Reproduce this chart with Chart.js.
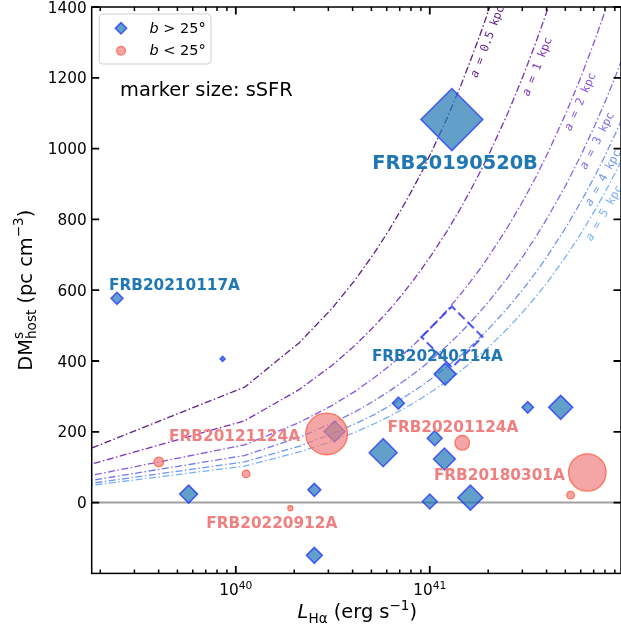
<!DOCTYPE html>
<html><head><meta charset="utf-8">
<script src="https://cdn.jsdelivr.net/npm/chart.js@4.4.1/dist/chart.umd.min.js"></script>
<style>html,body{margin:0;padding:0;background:#fff;}#wrap{width:621px;height:631px;position:relative;}</style>
</head><body><div id="wrap"><canvas id="c"></canvas></div>
<script>
// ---------------- data ----------------
const blueLabel = 'b > 25°';
const redLabel = 'b < 25°';
// b > 25 deg hosts: L_Halpha (erg/s), DM_host^s (pc cm^-3), sSFR (relative units, from marker area)
const blueL    = [2.44e39, 8.55e39, 1.30e41, 1.20e41, 6.89e40, 3.20e41, 4.73e41, 1.06e41, 5.75e40, 1.19e41, 3.23e40, 5.71e39, 2.54e40, 1.00e41, 1.62e41, 2.54e40];
const blueDM   = [577, 406, 1082, 363, 281, 269, 269, 182, 141, 123, 201, 24, 36, 3, 14, -149];
const blueSSFR = [4.0, 0.69, 106.8, 13.4, 4.0, 3.6, 16.0, 6.25, 21.8, 13.4, 12.25, 9.0, 4.7, 6.25, 17.4, 7.1];
// b < 25 deg hosts
const redL    = [2.94e40, 4.01e39, 1.13e40, 1.91e40, 1.47e41, 6.49e41, 5.32e41];
const redDM   = [194, 115, 81, -16, 169, 85, 21];
const redSSFR = [48.1, 2.56, 1.6, 0.69, 5.9, 38.9, 1.6];
// open dashed diamond
const dashL = [1.30e41];
const dashDM = [468];
const dashSSFR = [103.4];
const curveNames = ['0.5', '1', '2', '3', '4', '5'];
const curveL = [1e39, 1.109e40, 2.118e40, 3.127e40, 4.136e40, 5.145e40, 6.155e40, 7.164e40, 8.173e40, 9.182e40, 1.019e41, 1.221e41, 1.423e41, 1.625e41, 1.826e41, 2.028e41, 2.533e41, 3.037e41, 3.542e41, 4.046e41, 5.055e41, 6.064e41, 7.073e41, 8.083e41, 9.092e41, 1.0e42];
const dm_a05 = [98, 326, 451, 548, 630, 703, 769, 830, 886, 939, 990, 1083, 1169, 1250, 1325, 1396, 1560];
const dm_a1  = [69, 231, 319, 387, 445, 497, 543, 586, 626, 664, 699, 765, 826, 883, 936, 986, 1102, 1207, 1303, 1393, 1557];
const dm_a2  = [49, 163, 226, 274, 315, 352, 385, 415, 443, 470, 495, 542, 585, 625, 662, 698, 780, 854, 922, 986, 1102, 1207, 1304, 1394, 1478, 1550];
const dm_a3  = [40, 133, 184, 224, 257, 287, 314, 339, 362, 383, 404, 442, 477, 510, 541, 570, 637, 697, 753, 805, 899, 985, 1064, 1137, 1206, 1265];
const dm_a4  = [35, 115, 159, 194, 223, 248, 272, 293, 313, 332, 350, 383, 413, 441, 468, 493, 551, 604, 652, 697, 779, 853, 921, 984, 1044, 1095];
const dm_a5  = [31, 103, 143, 173, 199, 222, 243, 262, 280, 297, 313, 342, 370, 395, 419, 441, 493, 540, 583, 623, 697, 763, 824, 881, 934, 980];
const curveDM = [dm_a05, dm_a1, dm_a2, dm_a3, dm_a4, dm_a5];
// curve label anchors (centre, data space)
const curveLabelL  = [1.97e41, 3.56e41, 5.93e41, 7.25e41, 7.78e41, 7.87e41];
const curveLabelDM = [1303, 1232, 1133, 1023, 918, 819];
// FRB name annotations (left edge / vertical centre, data space)
const annotNames = ['FRB20190520B', 'FRB20210117A', 'FRB20240114A', 'FRB20121124A', 'FRB20201124A', 'FRB20180301A', 'FRB20220912A'];
const annotL     = [5.05e40, 2.22e39, 5.03e40, 4.53e39, 6.05e40, 1.05e41, 7.05e39];
const annotDM    = [961, 616, 415, 190, 215, 80, -55];
const annotGroup = ['b', 'b', 'b', 'r', 'r', 'r', 'r'];
// axes
const xMin = 1.807e39, xMax = 9.68e41;
const yMin = -200, yMax = 1400;
const xTickVals = [1e40, 1e41];
const xTickExp  = ['40', '41'];
const yTickVals = [0, 200, 400, 600, 800, 1000, 1200, 1400];
const yTickLabels = ['0', '200', '400', '600', '800', '1000', '1200', '1400'];

// ---------------- styles ----------------
const FF = '"DejaVu Sans"';
const curveColors = ['#5f1e8c', '#7a2fc2', '#8a55e6', '#7472ee', '#6f95f2', '#78b0f7'];
const curveRot = [-69, -68, -66, -63, -61, -60];
const blueFill = 'rgba(31,119,180,0.7)', blueEdge = 'rgba(20,40,255,0.7)';
const redFill = 'rgba(240,128,128,0.7)', redEdge = 'rgba(255,99,71,0.85)';
const sz = v => 3 * Math.sqrt(v);

function diamondPath(ctx, x, y, r) {
  ctx.beginPath(); ctx.moveTo(x - r, y); ctx.lineTo(x, y - r); ctx.lineTo(x + r, y); ctx.lineTo(x, y + r); ctx.closePath();
}
// dashed open diamond as a point style image
const dR = sz(dashSSFR[0]);
const dashCanvas = document.createElement('canvas');
dashCanvas.width = dashCanvas.height = Math.ceil(2 * dR + 6);
{
  const dc = dashCanvas.getContext('2d'), c0 = dashCanvas.width / 2;
  dc.setLineDash([9, 4]); dc.lineWidth = 2; dc.strokeStyle = 'rgba(40,50,240,0.85)';
  diamondPath(dc, c0, c0, dR); dc.stroke();
}

function runsWidth(ctx, runs) {
  let w = 0;
  for (const r of runs) {
    if (r.stack) { let m = 0; for (const s of r.stack) { ctx.font = s.f; m = Math.max(m, ctx.measureText(s.t).width); } w += m; }
    else { ctx.font = r.f; w += ctx.measureText(r.t).width; }
  }
  return w;
}
function drawRuns(ctx, runs, x, y) {
  for (const r of runs) {
    if (r.stack) { let m = 0; for (const s of r.stack) { ctx.font = s.f; ctx.fillText(s.t, x, y + (s.dy || 0)); m = Math.max(m, ctx.measureText(s.t).width); } x += m; }
    else { ctx.font = r.f; ctx.fillText(r.t, x, y + (r.dy || 0)); x += ctx.measureText(r.t).width; }
  }
}

const decor = {
  id: 'decor',
  afterDatasetsDraw(chart) {
    const { ctx, chartArea: a, scales: { x, y } } = chart;
    ctx.save();
    ctx.textAlign = 'left'; ctx.textBaseline = 'alphabetic';
    // FRB annotations
    annotNames.forEach((n, i) => {
      const big = i === 0;
      const fs = big ? 19.4 : 15.3;
      ctx.font = 'bold ' + fs + 'px ' + FF;
      ctx.fillStyle = annotGroup[i] === 'b' ? '#1f77b4' : '#f08080';
      ctx.fillText(n, x.getPixelForValue(annotL[i]), y.getPixelForValue(annotDM[i]) + 0.365 * fs);
    });
    // curve labels
    ctx.save();
    ctx.beginPath(); ctx.rect(a.left, a.top, a.right - a.left, a.bottom - a.top); ctx.clip();
    curveNames.forEach((n, i) => {
      const px = x.getPixelForValue(curveLabelL[i]), py = y.getPixelForValue(curveLabelDM[i]);
      ctx.save(); ctx.translate(px, py); ctx.rotate(curveRot[i] * Math.PI / 180);
      ctx.fillStyle = curveColors[i];
      const runs = [{ t: 'a', f: 'italic 11.5px "DejaVu Sans Mono"' }, { t: ' = ' + n + ' kpc', f: '11.5px "DejaVu Sans Mono"' }];
      const w = runsWidth(ctx, runs);
      drawRuns(ctx, runs, -w / 2, 4);
      ctx.restore();
    });
    ctx.restore();
    ctx.restore();
  },
  afterDraw(chart) {
    const { ctx, chartArea: a, scales: { x, y } } = chart;
    ctx.save();
    ctx.strokeStyle = '#000'; ctx.fillStyle = '#000';
    // frame
    ctx.lineWidth = 1.5;
    ctx.strokeRect(a.left, a.top, a.right - a.left, a.bottom - a.top);
    // x ticks (inward, top and bottom)
    const tick = (px, len, w) => {
      ctx.lineWidth = w;
      ctx.beginPath();
      ctx.moveTo(px, a.bottom); ctx.lineTo(px, a.bottom - len);
      ctx.moveTo(px, a.top); ctx.lineTo(px, a.top + len);
      ctx.stroke();
    };
    for (let k = 39; k <= 41; k++) {
      for (let m = 2; m <= 9; m++) {
        const v = m * Math.pow(10, k);
        if (v < xMin || v > xMax) continue;
        tick(x.getPixelForValue(v), 4, 1.5);
      }
    }
    xTickVals.forEach(v => tick(x.getPixelForValue(v), 7.5, 1.8));
    // y ticks (inward, left and right)
    yTickVals.forEach(v => {
      const py = y.getPixelForValue(v);
      ctx.lineWidth = 1.8;
      ctx.beginPath();
      ctx.moveTo(a.left, py); ctx.lineTo(a.left + 7.5, py);
      ctx.moveTo(a.right, py); ctx.lineTo(a.right - 7.5, py);
      ctx.stroke();
    });
    // tick labels
    ctx.textAlign = 'right';
    ctx.font = '15.3px ' + FF;
    yTickVals.forEach((v, i) => ctx.fillText(yTickLabels[i], a.left - 4.9, y.getPixelForValue(v) + 5.6));
    ctx.textAlign = 'left';
    xTickVals.forEach((v, i) => {
      const runs = [{ t: '10', f: '15.3px ' + FF }, { t: xTickExp[i], f: '10.7px ' + FF, dy: -6.5 }];
      const w = runsWidth(ctx, runs);
      drawRuns(ctx, runs, x.getPixelForValue(v) - w / 2, 595);
    });
    // axis titles
    const xr = [{ t: 'L', f: 'italic 19.4px ' + FF }, { t: 'Hα', f: '13.6px ' + FF, dy: 4.5 }, { t: ' (erg s', f: '19.4px ' + FF }, { t: '−1', f: '13.6px ' + FF, dy: -8.5 }, { t: ')', f: '19.4px ' + FF }];
    const xw = runsWidth(ctx, xr);
    drawRuns(ctx, xr, (a.left + a.right) / 2 - xw / 2 + 1, 618);
    const yr = [{ t: 'DM', f: '19.4px ' + FF }, { stack: [{ t: 's', f: '13.6px ' + FF, dy: -8.5 }, { t: 'host', f: '13.6px ' + FF, dy: 4.5 }] }, { t: ' (pc cm', f: '19.4px ' + FF }, { t: '−3', f: '13.6px ' + FF, dy: -8.5 }, { t: ')', f: '19.4px ' + FF }];
    ctx.save();
    ctx.translate(31.5, (a.top + a.bottom) / 2);
    ctx.rotate(-Math.PI / 2);
    const yw = runsWidth(ctx, yr);
    drawRuns(ctx, yr, -yw / 2, 0);
    ctx.restore();
    // marker size note
    ctx.font = '19.4px ' + FF;
    ctx.fillText('marker size: sSFR', 120, 96);
    // legend
    const lx = 99.3, ly = 14, lw = 111.7, lh = 50, rr = 3.5;
    ctx.beginPath();
    ctx.moveTo(lx + rr, ly); ctx.lineTo(lx + lw - rr, ly); ctx.quadraticCurveTo(lx + lw, ly, lx + lw, ly + rr);
    ctx.lineTo(lx + lw, ly + lh - rr); ctx.quadraticCurveTo(lx + lw, ly + lh, lx + lw - rr, ly + lh);
    ctx.lineTo(lx + rr, ly + lh); ctx.quadraticCurveTo(lx, ly + lh, lx, ly + lh - rr);
    ctx.lineTo(lx, ly + rr); ctx.quadraticCurveTo(lx, ly, lx + rr, ly); ctx.closePath();
    ctx.fillStyle = 'rgba(255,255,255,0.8)'; ctx.fill();
    ctx.strokeStyle = '#d0d0d0'; ctx.lineWidth = 1; ctx.stroke();
    const ds = chart.data.datasets;
    // entry 1 (blue diamond)
    diamondPath(ctx, 121, 28.3, 5.7);
    ctx.fillStyle = ds[1].backgroundColor; ctx.fill();
    ctx.strokeStyle = ds[1].borderColor; ctx.lineWidth = 1.5; ctx.stroke();
    // entry 2 (red circle)
    ctx.beginPath(); ctx.arc(121, 50.7, 4.4, 0, 2 * Math.PI);
    ctx.fillStyle = ds[0].backgroundColor; ctx.fill();
    ctx.strokeStyle = ds[0].borderColor; ctx.lineWidth = 1.2; ctx.stroke();
    ctx.fillStyle = '#000';
    [[ds[1].label, 32.7], [ds[0].label, 55.2]].forEach(([lab, by]) => {
      const runs = [{ t: lab.slice(0, 1), f: 'italic 14.5px ' + FF }, { t: lab.slice(1), f: '14.5px ' + FF }];
      drawRuns(ctx, runs, 149.5, by);
    });
    ctx.restore();
  }
};

const datasets = [
  {
    label: redLabel,
    data: redL.map((l, i) => ({ x: l, y: redDM[i] })),
    pointStyle: 'circle', pointRadius: redSSFR.map(sz),
    backgroundColor: redFill, borderColor: redEdge, borderWidth: 1.3,
    showLine: false, order: 0
  },
  {
    label: blueLabel,
    data: blueL.map((l, i) => ({ x: l, y: blueDM[i] })),
    pointStyle: 'rectRot', pointRadius: blueSSFR.map(sz),
    backgroundColor: blueFill, borderColor: blueEdge, borderWidth: 1.5,
    showLine: false, order: 1
  },
  {
    label: 'open',
    data: dashL.map((l, i) => ({ x: l, y: dashDM[i] })),
    pointStyle: dashCanvas, pointRadius: dR,
    showLine: false, order: 2
  }
];
curveNames.forEach((n, i) => {
  datasets.push({
    label: 'a = ' + n + ' kpc',
    data: curveDM[i].map((d, j) => ({ x: curveL[j], y: d })),
    showLine: true, pointRadius: 0, borderColor: curveColors[i], borderWidth: 1.3,
    borderDash: [7, 2.5, 1.5, 2.5], tension: 0, fill: false, order: 3
  });
});
datasets.push({
  label: 'zero',
  data: [{ x: 1e39, y: 0 }, { x: 1e42, y: 0 }],
  showLine: true, pointRadius: 0, borderColor: '#a0a0a0', borderWidth: 2, order: 10
});

new Chart(document.getElementById('c'), {
  type: 'scatter',
  data: { datasets },
  options: {
    responsive: true, maintainAspectRatio: false, animation: false, devicePixelRatio: 1,
    events: [],
    layout: { autoPadding: false, padding: { top: 7, right: -1.6, left: 0, bottom: 0 } },
    plugins: { legend: { display: false }, tooltip: { enabled: false } },
    scales: {
      x: {
        type: 'logarithmic', min: xMin, max: xMax,
        ticks: { display: false }, grid: { display: false }, border: { display: false },
        afterFit(s) { s.height = 57.6; }
      },
      y: {
        type: 'linear', min: yMin, max: yMax,
        ticks: { display: false }, grid: { display: false }, border: { display: false },
        afterFit(s) { s.width = 91.7; }
      }
    }
  },
  plugins: [decor]
});
</script>
</body></html>
